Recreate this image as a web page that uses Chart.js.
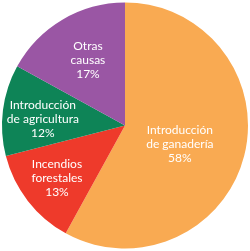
<!DOCTYPE html>
<html lang="es">
<head>
  <meta charset="UTF-8">
  <title>Causas</title>
  <script src="https://cdn.jsdelivr.net/npm/chart.js@4.4.1/dist/chart.umd.min.js"></script>
  <style>
    html, body { margin: 0; padding: 0; background: #fff; }
  </style>
</head>
<body>

  <canvas id="pie" width="250" height="251"></canvas>

  <script>

  const labels = [
    ['Introducción', 'de ganadería'],
    ['Incendios', 'forestales'],
    ['Introducción', 'de agricultura'],
    ['Otras', 'causas']
  ];
  const values = [58, 13, 12, 17];
  const colors = ['#F9AA52', '#EE3A2B', '#0E8457', '#9A56A4'];

  // label placement: fraction of radius, and a small turn (degrees) off the slice middle
  const labelRadius = [0.47, 0.70, 0.67, 0.61];
  const labelTurn = [4, 0, -2.7, 1];

  const sliceLabels = {
    id: 'sliceLabels',
    afterDatasetsDraw(chart) {
      const ctx = chart.ctx;
      const meta = chart.getDatasetMeta(0);
      ctx.save();
      ctx.fillStyle = '#fff';
      ctx.font = '12px Lato';
      ctx.textAlign = 'center';
      ctx.textBaseline = 'middle';
      meta.data.forEach((arc, i) => {
        const mid = (arc.startAngle + arc.endAngle) / 2 + labelTurn[i] * Math.PI / 180;
        const r = arc.outerRadius * labelRadius[i];
        const x = arc.x + Math.cos(mid) * r;
        const y = arc.y + Math.sin(mid) * r;
        const lines = labels[i].concat(values[i] + '%');
        lines.forEach((t, j) => {
          ctx.fillText(t, x, y + (j - 1) * 14);
        });
      });
      ctx.restore();
    }
  };

  new Chart(document.getElementById('pie'), {
    type: 'pie',
    data: {
      labels: labels.map(l => l.join(' ')),
      datasets: [{
        data: values,
        backgroundColor: colors,
        borderWidth: 0
      }]
    },
    options: {
      responsive: false,
      animation: false,
      layout: { padding: 2 },
      plugins: {
        legend: { display: false },
        tooltip: { enabled: false }
      }
    },
    plugins: [sliceLabels]
  });

  </script>
</body>
</html>
